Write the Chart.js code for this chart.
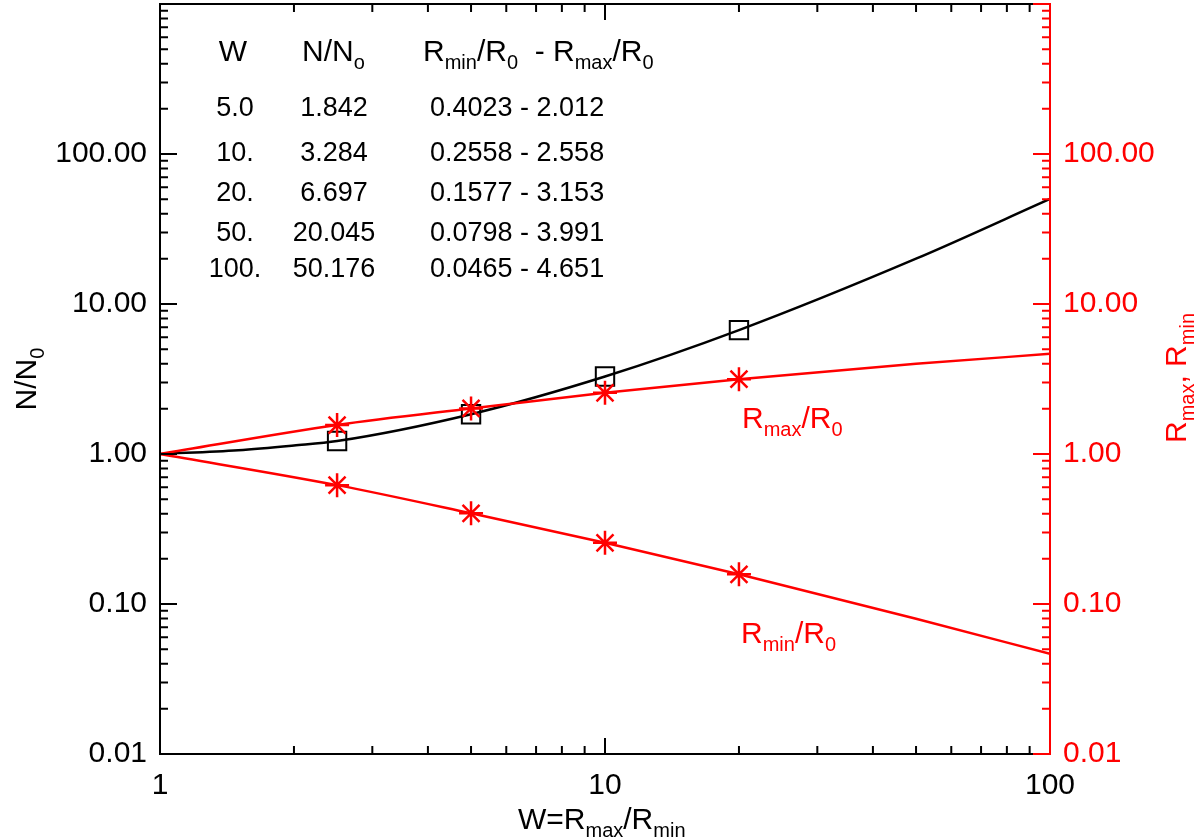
<!DOCTYPE html>
<html>
<head>
<meta charset="utf-8">
<script src="https://cdn.jsdelivr.net/npm/chart.js@4.4.1/dist/chart.umd.min.js"></script>
<style>
  body { margin: 0; background: #fff; }
  canvas { display: block; }
</style>
</head>
<body>
<canvas id="c" width="1200" height="840"></canvas>
<script>
"use strict";

// curves (log-log)
const wCurve = [1, 1.5, 2, 2.5, 5, 10, 20, 50, 100];
const nCurve = [1, 1.06, 1.14, 1.22, 1.842, 3.284, 6.697, 20.045, 50.176];
const wR = [1, 2.5, 5, 10, 20, 50, 100];
const rMaxCurve = [1, 1.56, 2.012, 2.558, 3.153, 3.991, 4.651];
const rMinCurve = [1, 0.62, 0.4023, 0.2558, 0.1577, 0.0798, 0.0465];

// plotted markers
const wMark = [2.5, 5, 10, 20];
const nMark = [1.22, 1.842, 3.284, 6.697];
const rMaxMark = [1.56, 2.012, 2.558, 3.153];
const rMinMark = [0.62, 0.4023, 0.2558, 0.1577];

// table in the upper left
const tabW = ["5.0", "10.", "20.", "50.", "100."];
const tabN = ["1.842", "3.284", "6.697", "20.045", "50.176"];
const tabR = ["0.4023 - 2.012", "0.2558 - 2.558", "0.1577 - 3.153", "0.0798 - 3.991", "0.0465 - 4.651"];

const FONT = '"Liberation Sans", Arial, Helvetica, sans-serif';
const RED = "#ff0000";

const pts = (xs, ys) => xs.map((x, i) => ({ x: x, y: ys[i] }));
const isDecade = (v) => Math.abs(Math.log10(v) - Math.round(Math.log10(v))) < 1e-9;

// text with subscripts: parts = [[text, isSub], ...]
function richWidth(ctx, parts, size) {
  let w = 0;
  parts.forEach(([t, sub]) => {
    ctx.font = (sub ? Math.round(size * 0.68) : size) + "px " + FONT;
    w += ctx.measureText(t).width;
  });
  return w;
}
function rich(ctx, parts, x, y, size, color, align) {
  ctx.fillStyle = color;
  ctx.textBaseline = "alphabetic";
  ctx.textAlign = "left";
  let cx = x;
  if (align === "center") cx -= richWidth(ctx, parts, size) / 2;
  parts.forEach(([t, sub]) => {
    ctx.font = (sub ? Math.round(size * 0.68) : size) + "px " + FONT;
    ctx.fillText(t, cx, sub ? y + size * 0.27 : y);
    cx += ctx.measureText(t).width;
  });
}

// every 1..9 x 10^n value of a log scale, with a flag for the decades
function logMarks(scale) {
  const out = [];
  const lo = Math.floor(Math.log10(scale.min));
  const hi = Math.ceil(Math.log10(scale.max));
  for (let e = lo; e <= hi; e++) {
    for (let k = 1; k < 10; k++) {
      const v = k * Math.pow(10, e);
      if (v >= scale.min * 0.9999 && v <= scale.max * 1.0001) out.push({ v: v, major: k === 1 });
    }
  }
  return out;
}

const frame = {
  id: "frame",
  afterDatasetsDraw(chart) {
    const { ctx, chartArea: a, scales } = chart;
    ctx.save();
    ctx.lineWidth = 2;
    ctx.lineCap = "butt";
    ctx.strokeStyle = "#000";
    ctx.beginPath();
    ctx.moveTo(a.left, a.top); ctx.lineTo(a.right, a.top);
    ctx.moveTo(a.left, a.bottom); ctx.lineTo(a.right - 15, a.bottom);
    ctx.moveTo(a.left, a.top - 1); ctx.lineTo(a.left, a.bottom + 1);
    logMarks(scales.x).forEach((t) => {
      const px = scales.x.getPixelForValue(t.v);
      const len = t.major ? 16 : 8;
      ctx.moveTo(px, a.bottom); ctx.lineTo(px, a.bottom - len);
      ctx.moveTo(px, a.top); ctx.lineTo(px, a.top + len);
    });
    logMarks(scales.y).forEach((t) => {
      const py = scales.y.getPixelForValue(t.v);
      const len = t.major ? 17 : 8;
      ctx.moveTo(a.left, py); ctx.lineTo(a.left + len, py);
    });
    ctx.stroke();

    ctx.strokeStyle = RED;
    ctx.beginPath();
    ctx.moveTo(a.right, a.top - 1); ctx.lineTo(a.right, a.bottom + 1);
    ctx.moveTo(a.right - 15, a.bottom); ctx.lineTo(a.right, a.bottom);
    logMarks(scales.y2).forEach((t) => {
      const py = scales.y2.getPixelForValue(t.v);
      const len = t.major ? 17 : 8;
      ctx.moveTo(a.right, py); ctx.lineTo(a.right - len, py);
    });
    ctx.stroke();
    ctx.restore();
  },
  afterDraw(chart) {
    const ctx = chart.ctx;
    ctx.save();
    // table
    rich(ctx, [["W", false]], 233, 61, 30, "#000", "center");
    rich(ctx, [["N/N", false], ["o", true]], 302, 61, 30, "#000");
    rich(ctx, [["R", false], ["min", true], ["/R", false], ["0", true], ["  - R", false], ["max", true], ["/R", false], ["0", true]], 423, 61, 30, "#000");
    const rowY = [116, 161, 201, 241, 277];
    rowY.forEach((y, i) => {
      rich(ctx, [[tabW[i], false]], 235, y, 27, "#000", "center");
      rich(ctx, [[tabN[i], false]], 334, y, 27, "#000", "center");
      rich(ctx, [[tabR[i], false]], 430, y, 27, "#000");
    });
    // curve labels
    rich(ctx, [["R", false], ["max", true], ["/R", false], ["0", true]], 742, 428, 30, RED);
    rich(ctx, [["R", false], ["min", true], ["/R", false], ["0", true]], 741, 643, 30, RED);
    // axis titles
    rich(ctx, [["W=R", false], ["max", true], ["/R", false], ["min", true]], 518, 829, 30, "#000");
    ctx.save();
    ctx.translate(36, 379);
    ctx.rotate(-Math.PI / 2);
    rich(ctx, [["N/N", false], ["0", true]], 0, 0, 30, "#000", "center");
    ctx.restore();
    ctx.save();
    ctx.translate(1186, 378);
    ctx.rotate(-Math.PI / 2);
    rich(ctx, [["R", false], ["max", true], [", R", false], ["min", true]], 0, 0, 30, RED, "center");
    ctx.restore();
    ctx.restore();
  },
};

const logTicks = (color, pad) => ({
  autoSkip: false,
  maxRotation: 0,
  color: color,
  padding: pad,
  font: { family: FONT, size: 30 },
  callback: (v) => (isDecade(v) && v < 1000 ? v.toFixed(2) : null),
});

const fitY = (w) => (s) => { s.width = w; s.paddingTop = 0; s.paddingBottom = 0; };

new Chart(document.getElementById("c"), {
  type: "line",
  data: {
    datasets: [
      { data: pts(wMark, rMaxMark), yAxisID: "y2", showLine: false, pointStyle: "star", pointRadius: 12, borderColor: RED, borderWidth: 2.5, pointBorderWidth: 2.5 },
      { data: pts(wMark, rMinMark), yAxisID: "y2", showLine: false, pointStyle: "star", pointRadius: 12, borderColor: RED, borderWidth: 2.5, pointBorderWidth: 2.5 },
      { data: pts(wR, rMaxCurve), yAxisID: "y2", borderColor: RED, borderWidth: 2.5, pointRadius: 0, cubicInterpolationMode: "monotone" },
      { data: pts(wR, rMinCurve), yAxisID: "y2", borderColor: RED, borderWidth: 2.5, pointRadius: 0, cubicInterpolationMode: "monotone" },
      { data: pts(wMark, nMark), yAxisID: "y", showLine: false, pointStyle: "rect", pointRadius: 13, borderColor: "#000", backgroundColor: "rgba(0,0,0,0)", pointBorderWidth: 2 },
      { data: pts(wCurve, nCurve), yAxisID: "y", borderColor: "#000", borderWidth: 2.5, pointRadius: 0, cubicInterpolationMode: "monotone" },
    ],
  },
  options: {
    responsive: false,
    animation: false,
    layout: { autoPadding: false, padding: { top: 4 } },
    plugins: { legend: { display: false }, tooltip: { enabled: false } },
    scales: {
      x: {
        type: "logarithmic",
        min: 1,
        max: 100,
        grid: { display: false, drawTicks: false },
        border: { display: false },
        ticks: {
          autoSkip: false,
          maxRotation: 0,
          color: "#000",
          padding: 14,
          font: { family: FONT, size: 30 },
          callback: (v) => (isDecade(v) ? String(Math.round(v)) : null),
        },
        afterFit: (s) => { s.height = 86; s.paddingLeft = 0; s.paddingRight = 0; },
      },
      y: {
        type: "logarithmic",
        position: "left",
        min: 0.01,
        max: 1000,
        grid: { display: false, drawTicks: false },
        border: { display: false },
        ticks: logTicks("#000", 13),
        afterFit: fitY(160),
      },
      y2: {
        type: "logarithmic",
        position: "right",
        min: 0.01,
        max: 1000,
        grid: { display: false, drawTicks: false },
        border: { display: false },
        ticks: logTicks(RED, 13),
        afterFit: fitY(150),
      },
    },
  },
  plugins: [frame],
});
</script>
</body>
</html>
